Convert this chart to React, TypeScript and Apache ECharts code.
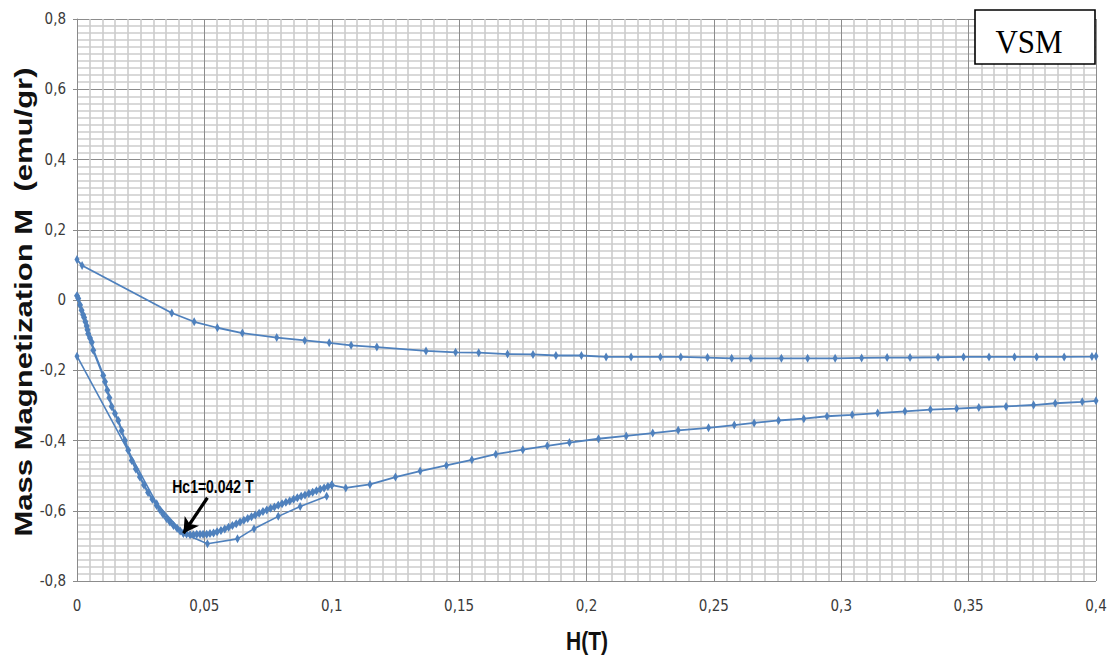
import React, { useEffect, useRef } from "react";
import * as echarts from "echarts";

// Axis tick labels (decimal comma)
const xTickLabels = ["0", "0,05", "0,1", "0,15", "0,2", "0,25", "0,3", "0,35", "0,4"];
const yTickLabels = ["-0,8", "-0,6", "-0,4", "-0,2", "0", "0,2", "0,4", "0,6", "0,8"];

// Increasing field: densely sampled low-field part (T, emu/gr)
const riseDenseH = [
  0.0, 0.0005, 0.0012, 0.0018, 0.0024, 0.0028, 0.0033, 0.0038, 0.0041, 0.0044, 0.0051, 0.0058, 0.0064,
  0.0103, 0.011, 0.0119, 0.0127, 0.0136, 0.0149, 0.0162, 0.0175, 0.0188, 0.0201, 0.0215, 0.0231, 0.0247,
  0.0263, 0.0279, 0.0296, 0.0313, 0.0326, 0.0338, 0.0352, 0.0365, 0.0379, 0.0393, 0.0405, 0.0417, 0.043,
  0.0444, 0.0457, 0.047, 0.0483, 0.0495, 0.0509, 0.0522, 0.0536, 0.055, 0.0565, 0.058, 0.0595, 0.061,
  0.0625, 0.064, 0.0655, 0.067, 0.0685, 0.07, 0.0715, 0.073, 0.0745, 0.076, 0.0775, 0.079, 0.0805, 0.082,
  0.0835, 0.085, 0.0865, 0.088, 0.0895, 0.091, 0.0925, 0.094, 0.0955, 0.097, 0.0985, 0.1,
];
const riseDenseM = [
  0.012, 0.004, -0.014, -0.029, -0.042, -0.05, -0.062, -0.074, -0.085, -0.096, -0.108, -0.12, -0.143,
  -0.215, -0.233, -0.257, -0.278, -0.303, -0.323, -0.343, -0.372, -0.4, -0.428, -0.457, -0.481, -0.504,
  -0.527, -0.548, -0.567, -0.585, -0.598, -0.61, -0.622, -0.632, -0.642, -0.65, -0.658, -0.663, -0.666,
  -0.668, -0.668, -0.667, -0.667, -0.667, -0.667, -0.665, -0.663, -0.66, -0.656, -0.652, -0.647, -0.642,
  -0.637, -0.632, -0.627, -0.622, -0.617, -0.612, -0.607, -0.602, -0.598, -0.593, -0.589, -0.584, -0.58,
  -0.576, -0.572, -0.567, -0.563, -0.559, -0.555, -0.551, -0.547, -0.543, -0.539, -0.535, -0.531, -0.527,
];

// Increasing field: sparse high-field part
const riseH = [
  0.1, 0.1055, 0.115, 0.125, 0.1347, 0.145, 0.155, 0.1644, 0.175, 0.1846, 0.1933, 0.2047, 0.2156, 0.226,
  0.236, 0.2479, 0.258, 0.2658, 0.2754, 0.2853, 0.2944, 0.3043, 0.3143, 0.325, 0.335, 0.3453, 0.354,
  0.3647, 0.3755, 0.384, 0.3946, 0.4,
];
const riseM = [
  -0.527, -0.535, -0.525, -0.504, -0.487, -0.471, -0.455, -0.439, -0.426, -0.415, -0.406, -0.395, -0.387,
  -0.379, -0.371, -0.364, -0.356, -0.35, -0.343, -0.338, -0.331, -0.327, -0.322, -0.317, -0.312, -0.309,
  -0.306, -0.303, -0.299, -0.294, -0.29, -0.287,
];

// Decreasing field, 0.4 T back to 0
const fallH = [
  0.4, 0.3984, 0.3875, 0.3767, 0.368, 0.358, 0.348, 0.338, 0.327, 0.318, 0.308, 0.2976, 0.2868, 0.2765,
  0.2645, 0.257, 0.2475, 0.237, 0.229, 0.2175, 0.2077, 0.198, 0.188, 0.179, 0.169, 0.1577, 0.1486, 0.137,
  0.1177, 0.1076, 0.099, 0.0894, 0.0784, 0.0649, 0.0551, 0.046, 0.0372, 0.002, 0.0,
];
const fallM = [
  -0.16, -0.161, -0.162, -0.162, -0.162, -0.162, -0.162, -0.163, -0.164, -0.164, -0.165, -0.166, -0.166,
  -0.166, -0.166, -0.166, -0.164, -0.162, -0.162, -0.162, -0.162, -0.158, -0.158, -0.155, -0.154, -0.15,
  -0.149, -0.145, -0.134, -0.129, -0.122, -0.115, -0.107, -0.094, -0.079, -0.062, -0.037, 0.098, 0.115,
];

// Second low-field sweep
const sweepH = [0.0, 0.0313, 0.0418, 0.0512, 0.063, 0.0695, 0.079, 0.0876, 0.098];
const sweepM = [-0.16, -0.58, -0.665, -0.694, -0.68, -0.651, -0.616, -0.588, -0.559];

// Annotation of the first critical field
const hc1Label = "Hc1=0.042 T";
const hc1ArrowTail = [0.0512, -0.563];
const hc1ArrowTip = [0.0418, -0.664];
const hc1LabelLeft = [0.0374, -0.532];

const pairs = (xs: number[], ys: number[]) => xs.map((x, i) => [x, ys[i]]);

const BLUE = "#4f81bd";
const TICK_FONT = "'Liberation Sans Narrow', 'DejaVu Sans Condensed', 'Liberation Sans', sans-serif";

export default function App() {
  const ref = useRef<HTMLDivElement>(null);

  useEffect(() => {
    if (!ref.current) return;
    const chart = echarts.init(ref.current, null, { renderer: "svg" });

    const lineSeries = (name: string, data: number[][], size: number[] | number, width: number) => ({
      name,
      type: "line",
      data,
      symbol: "diamond",
      symbolSize: size,
      showSymbol: true,
      lineStyle: { color: BLUE, width },
      itemStyle: { color: BLUE },
      z: 3,
    });

    chart.setOption({
      animation: false,
      backgroundColor: "#ffffff",
      grid: { left: 77, top: 19, width: 1019, height: 562, containLabel: false },
      xAxis: {
        type: "value",
        min: 0,
        max: 0.4,
        interval: 0.05,
        axisLine: { show: true, lineStyle: { color: "#8a8a8a", width: 1 } },
        axisTick: { show: false },
        axisLabel: {
          margin: 17,
          color: "#3a3a3a",
          fontSize: 15,
          fontFamily: TICK_FONT,
          formatter: (v: number) => xTickLabels[Math.round(v / 0.05)] ?? "",
        },
        splitLine: { show: true, lineStyle: { color: "#8c8c8c", width: 1 } },
        minorTick: { show: false, splitNumber: 10 },
        minorSplitLine: { show: true, lineStyle: { color: "#cccccc", width: 1.6 } },
      },
      yAxis: {
        type: "value",
        min: -0.8,
        max: 0.8,
        interval: 0.2,
        axisLine: { show: true, lineStyle: { color: "#8a8a8a", width: 1 } },
        axisTick: { show: true, length: 4, lineStyle: { color: "#8a8a8a" } },
        axisLabel: {
          margin: 11,
          color: "#3a3a3a",
          fontSize: 15,
          fontFamily: TICK_FONT,
          formatter: (v: number) => yTickLabels[Math.round((v + 0.8) / 0.2)] ?? "",
        },
        splitLine: { show: true, lineStyle: { color: "#8c8c8c", width: 1 } },
        minorTick: { show: false, splitNumber: 10 },
        minorSplitLine: { show: true, lineStyle: { color: "#cccccc", width: 1.6 } },
      },
      series: [
        {
          ...lineSeries("rise-low", pairs(riseDenseH, riseDenseM), [6, 9], 2.2),
          markLine: {
            silent: true,
            symbol: ["none", "arrow"],
            symbolSize: [13, 15],
            lineStyle: { color: "#000000", width: 3.2, type: "solid" },
            label: { show: false },
            data: [[{ coord: hc1ArrowTail }, { coord: hc1ArrowTip }]],
            z: 10,
          },
        },
        lineSeries("rise-high", pairs(riseH, riseM), [5, 9], 1.8),
        lineSeries("fall", pairs(fallH, fallM), [5, 9], 1.8),
        lineSeries("sweep", pairs(sweepH, sweepM), [5, 9], 1.6),
      ],
    });

    const lp = chart.convertToPixel({ gridIndex: 0 }, hc1LabelLeft) as number[];

    chart.setOption({
      graphic: [
        {
          type: "text",
          x: 24,
          y: 302,
          rotation: Math.PI / 2,
          scaleX: 1.35,
          style: {
            text: "Mass Magnetization M  (emu/gr)",
            font: "bold 23px 'Liberation Sans', Arial, sans-serif",
            fill: "#111111",
            align: "center",
            verticalAlign: "middle",
          },
        },
        {
          type: "text",
          x: 587,
          y: 641,
          scaleY: 1.25,
          style: {
            text: "H(T)",
            font: "bold 21px 'Liberation Sans', Arial, sans-serif",
            fill: "#111111",
            align: "center",
            verticalAlign: "middle",
          },
        },
        {
          type: "text",
          x: lp[0],
          y: lp[1],
          scaleY: 1.25,
          z: 20,
          style: {
            text: hc1Label,
            font: "bold 14px 'Liberation Sans', Arial, sans-serif",
            fill: "#000000",
            align: "left",
            verticalAlign: "middle",
          },
        },
        {
          type: "rect",
          shape: { x: 975, y: 10, width: 120, height: 54 },
          style: { fill: "#ffffff", stroke: "#000000", lineWidth: 1.6 },
          z: 20,
        },
        {
          type: "text",
          x: 1029,
          y: 42,
          z: 21,
          scaleY: 1.08,
          style: {
            text: "VSM",
            font: "31px 'Liberation Serif', 'Times New Roman', serif",
            fill: "#000000",
            align: "center",
            verticalAlign: "middle",
          },
        },
      ],
    });

    return () => chart.dispose();
  }, []);

  return (
    <div
      ref={ref}
      style={{ position: "fixed", left: 0, top: 0, width: 1111, height: 659, background: "#fff" }}
    />
  );
}
